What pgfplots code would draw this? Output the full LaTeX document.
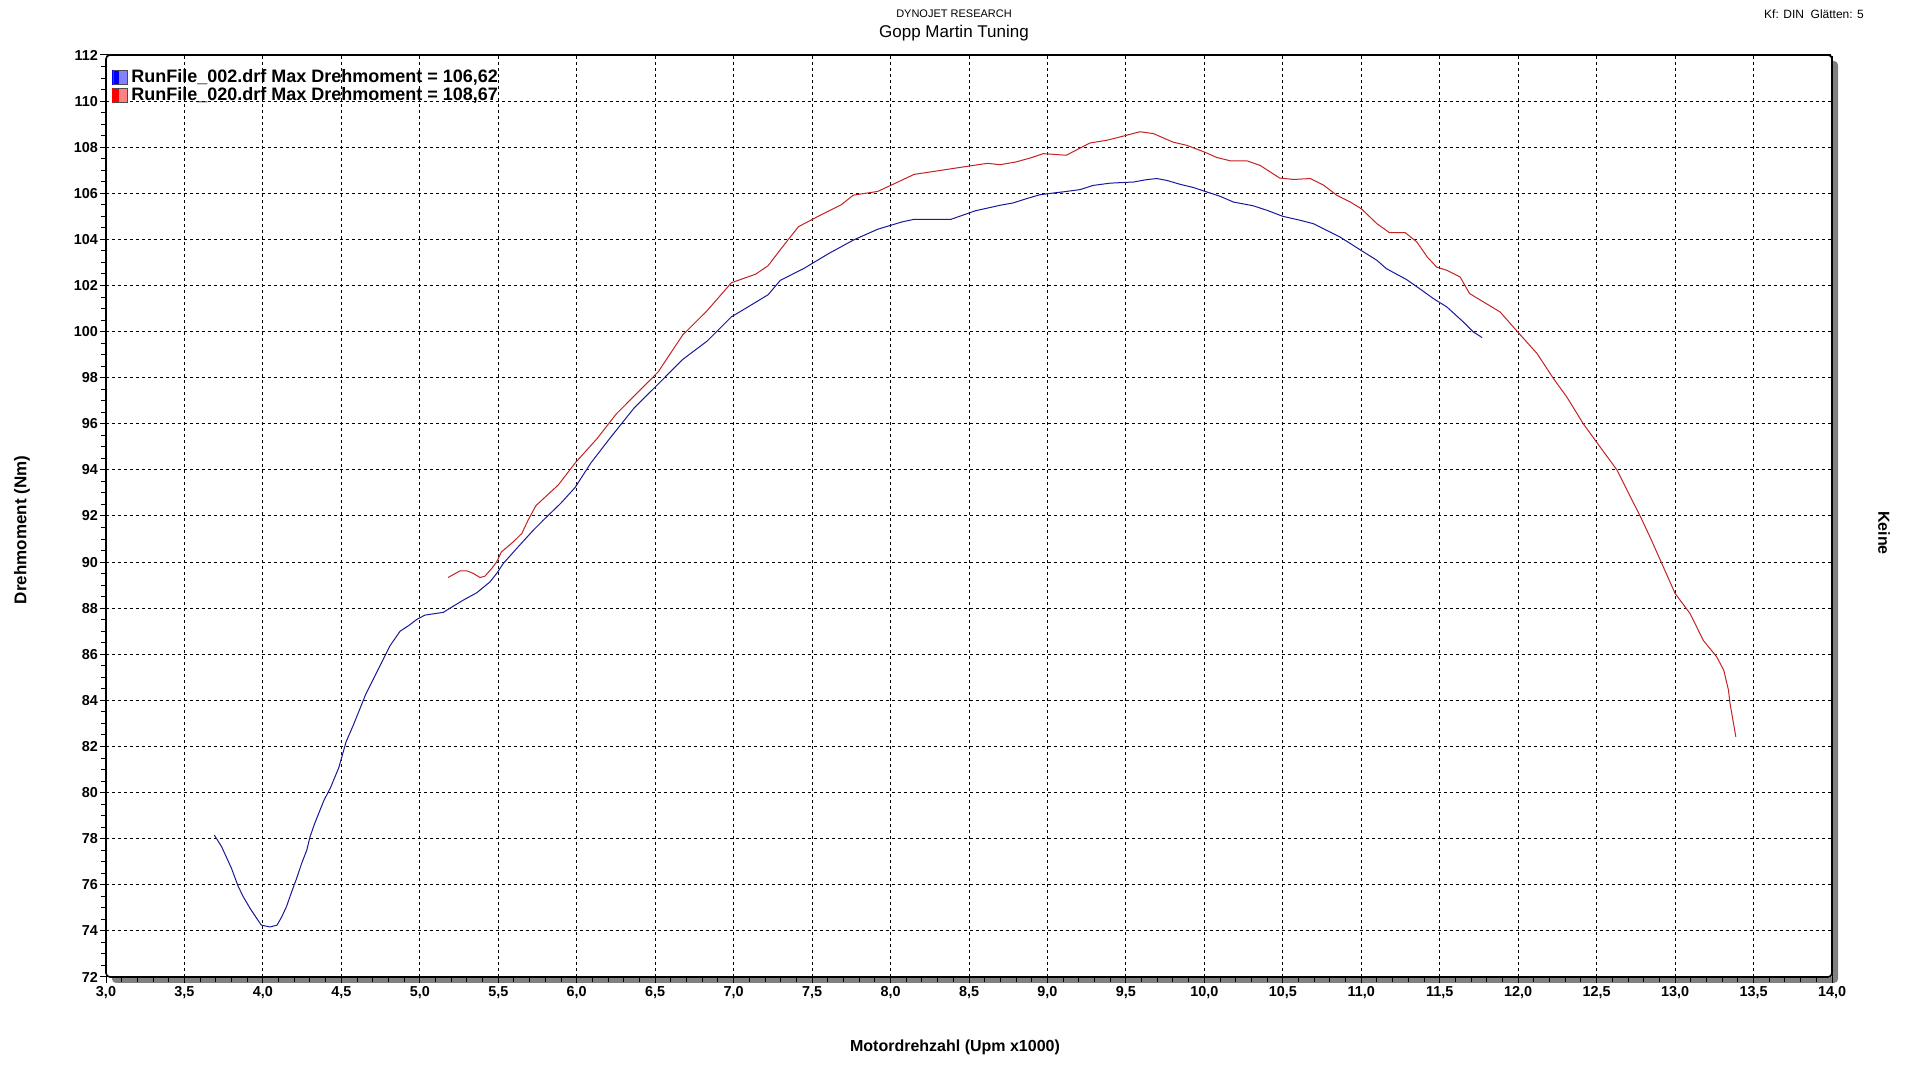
\documentclass[border=0pt]{standalone}
\usepackage{fontspec}
\setmainfont{Liberation Sans}
\usepackage{pgfplots}
\pgfplotsset{compat=1.18}
\definecolor{bl}{RGB}{25,25,155}
\definecolor{rd}{RGB}{195,35,35}
\definecolor{lb1}{RGB}{0,0,255}
\definecolor{lb2}{RGB}{130,130,255}
\definecolor{lr1}{RGB}{255,0,0}
\definecolor{lr2}{RGB}{255,130,130}
\begin{document}
\begin{tikzpicture}[x=1pt,y=1pt]
\useasboundingbox (0,0) rectangle (955.5,534.5);
\fill[black!50, rounded corners=2pt] (56,43) rectangle (919,504);
\begin{axis}[at={(53pt,46pt)}, anchor=south west, scale only axis,
  width=863pt, height=461pt,
  xmin=3, xmax=14, ymin=72, ymax=112,
  xtick distance=0.5, ytick distance=2,
  minor x tick num=4, minor y tick num=3,
  tick pos=left, tick align=outside,
  major tick length=3pt, minor tick length=2.5pt,
  tick style={black, line width=0.5pt},
  grid=major,
  major grid style={black, line width=0.5pt, dash pattern=on 1.5pt off 1.5pt},
  axis background/.style={fill=white},
  axis line style={draw=none},
  /pgf/number format/assume math mode=true,
  ticklabel style={font=\fontsize{7.2}{8}\selectfont\bfseries},
  xticklabel style={yshift=1.8pt, /pgf/number format/.cd, fixed, fixed zerofill, precision=1, use comma},
  yticklabel style={xshift=2.5pt, /pgf/number format/.cd, fixed, precision=0},
  legend style={at={(rel axis cs:0,1)}, anchor=north west, xshift=2pt, yshift=-4pt,
    draw=none, fill=none, font=\fontsize{9}{10}\selectfont\bfseries,
    row sep=-3pt, inner sep=1pt},
  legend cell align=left,
]
\addplot[bl, line width=0.5pt,
  legend image code/.code={
    \fill[lb1] (0pt,-3.5pt) rectangle (3.5pt,3.5pt);
    \fill[lb2] (3.5pt,-3.5pt) rectangle (7pt,3.5pt);
    \draw[black!70, line width=0.4pt] (0pt,-3.5pt) rectangle (7pt,3.5pt);}
] coordinates {
(3.69,78.16) (3.737,77.65) (3.80,76.71) (3.843,75.92) (3.875,75.48) (3.918,74.98)
(3.96,74.55) (3.99,74.25) (4.045,74.17) (4.09,74.25) (4.12,74.61) (4.15,75.05)
(4.18,75.63) (4.215,76.28) (4.247,76.93) (4.28,77.51) (4.30,78.08) (4.33,78.66)
(4.364,79.24) (4.39,79.68) (4.43,80.2) (4.484,81.09) (4.53,82.2) (4.577,82.94)
(4.655,84.26) (4.733,85.32) (4.81,86.37) (4.874,87.0) (4.93,87.25) (4.98,87.51)
(5.033,87.7) (5.15,87.82) (5.19,87.99) (5.277,88.35) (5.363,88.67) (5.447,89.14)
(5.49,89.51) (5.532,89.94) (5.617,90.59) (5.723,91.38) (5.787,91.82) (5.898,92.55)
(5.99,93.24) (6.09,94.3) (6.21,95.36) (6.365,96.68) (6.52,97.73) (6.675,98.79)
(6.83,99.58) (6.986,100.64) (7.14,101.27) (7.22,101.6) (7.297,102.22) (7.45,102.75)
(7.607,103.39) (7.763,103.97) (7.918,104.44) (8.074,104.76) (8.15,104.87) (8.385,104.87)
(8.54,105.24) (8.698,105.48) (8.78,105.58) (8.868,105.77) (8.953,105.94) (9.12,106.08)
(9.208,106.16) (9.29,106.34) (9.4,106.44) (9.55,106.49) (9.63,106.59) (9.697,106.64)
(9.76,106.56) (9.845,106.39) (9.93,106.25) (10.015,106.06) (10.1,105.87) (10.185,105.62)
(10.31,105.46) (10.4,105.26) (10.5,105.0) (10.61,104.83) (10.695,104.68) (10.78,104.39)
(10.865,104.1) (10.99,103.56) (11.1,103.09) (11.16,102.73) (11.29,102.25) (11.37,101.87)
(11.46,101.43) (11.545,101.07) (11.65,100.42) (11.715,99.98) (11.77,99.74)
};
\addlegendentry{RunFile\_002.drf Max Drehmoment = 106,62}
\addplot[rd, line width=0.5pt,
  legend image code/.code={
    \fill[lr1] (0pt,-3.5pt) rectangle (3.5pt,3.5pt);
    \fill[lr2] (3.5pt,-3.5pt) rectangle (7pt,3.5pt);
    \draw[black!70, line width=0.4pt] (0pt,-3.5pt) rectangle (7pt,3.5pt);}
] coordinates {
(5.18,89.33) (5.256,89.62) (5.30,89.62) (5.34,89.51) (5.384,89.33) (5.415,89.39)
(5.458,89.72) (5.49,90.01) (5.52,90.44) (5.596,90.88) (5.65,91.24) (5.69,91.82)
(5.74,92.45) (5.883,93.35) (5.99,94.3) (6.13,95.36) (6.25,96.41) (6.365,97.2)
(6.52,98.26) (6.675,99.85) (6.83,100.9) (6.986,102.12) (7.14,102.49) (7.22,102.86)
(7.297,103.55) (7.413,104.55) (7.53,104.97) (7.685,105.5) (7.763,105.92) (7.918,106.08)
(8.035,106.45) (8.15,106.82) (8.307,106.98) (8.46,107.14) (8.618,107.3) (8.698,107.24)
(8.80,107.36) (8.89,107.53) (8.974,107.72) (9.12,107.65) (9.27,108.18) (9.378,108.3)
(9.46,108.44) (9.59,108.67) (9.675,108.59) (9.80,108.22) (9.888,108.08) (10.0,107.79)
(10.08,107.55) (10.165,107.41) (10.27,107.41) (10.355,107.21) (10.48,106.66) (10.57,106.6)
(10.675,106.64) (10.76,106.35) (10.845,105.91) (10.93,105.62) (11.0,105.33) (11.1,104.68)
(11.18,104.29) (11.28,104.29) (11.354,103.89) (11.42,103.24) (11.48,102.8) (11.545,102.66)
(11.63,102.37) (11.69,101.65) (11.78,101.28) (11.885,100.85) (12.0,99.96) (12.12,99.05)
(12.225,97.96) (12.31,97.16) (12.415,96.0) (12.5,95.2) (12.63,93.99) (12.71,92.9)
(12.78,91.96) (12.84,91.09) (12.925,89.79) (13.0,88.64) (13.095,87.77) (13.18,86.6)
(13.265,85.89) (13.31,85.31) (13.34,84.45) (13.35,83.87) (13.387,82.42)
};
\addlegendentry{RunFile\_020.drf Max Drehmoment = 108,67}
\end{axis}
\draw[black, line width=0.8pt, rounded corners=2pt] (53,46) rectangle (916,507);
\node[rotate=90, font=\fontsize{8.5}{10}\selectfont\bfseries] at (11,269.5) {Drehmoment (Nm)};
\node[font=\fontsize{8}{10}\selectfont\bfseries] at (477.5,10.6) {Motordrehzahl (Upm x1000)};
\node[rotate=-90, font=\fontsize{8}{10}\selectfont\bfseries] at (942,268) {Keine};
\node[font=\fontsize{8.5}{10}\selectfont] at (477,518) {Gopp Martin Tuning};
\node[font=\fontsize{5.5}{6}\selectfont] at (477,527.8) {DYNOJET RESEARCH};
\node[font=\fontsize{6}{7}\selectfont] at (907,527.2) {Kf: DIN\ \ Glätten: 5};
\end{tikzpicture}
\end{document}
